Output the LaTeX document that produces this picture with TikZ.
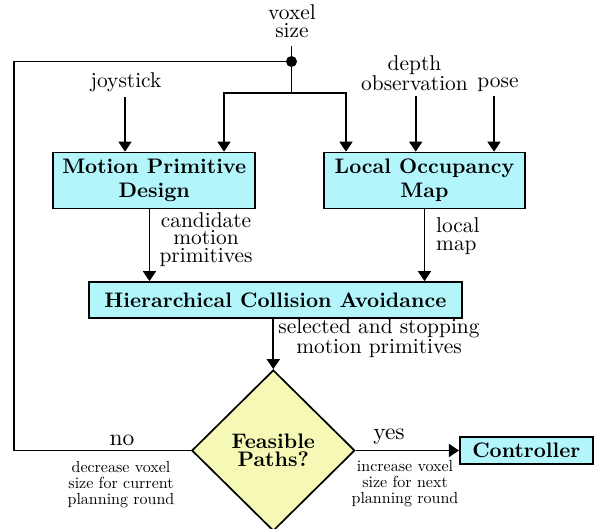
\documentclass[tikz,border=0pt]{standalone}
\usepackage{fontspec}
\setmainfont{lmroman10-regular.otf}[BoldFont=lmroman10-bold.otf]
\usetikzlibrary{arrows.meta,shapes.geometric}
\definecolor{boxcyan}{RGB}{178,246,252}
\definecolor{diayellow}{RGB}{246,249,182}
\tikzset{
  box/.style={draw, fill=boxcyan, line width=1.7pt, inner sep=0pt,
    font=\fontsize{21}{24}\selectfont\bfseries, align=center},
  decision/.style={diamond, draw, fill=diayellow, line width=1.7pt, inner sep=0pt,
    font=\fontsize{21}{18}\selectfont\bfseries, align=center,
    minimum width=163pt, minimum height=161pt},
  lbl/.style={inner sep=0pt, font=\fontsize{21.4}{17.5}\selectfont, align=center},
  big/.style={inner sep=0pt, font=\fontsize{23.5}{20}\selectfont},
  sml/.style={inner sep=0pt, font=\fontsize{16}{16}\selectfont, align=center},
  arr/.style={line width=1.7pt, -{Triangle[length=10pt,width=13pt]}},
  ln/.style={line width=1.7pt},
}
\begin{document}
\begin{tikzpicture}[x=1pt,y=-1pt]
\useasboundingbox (0,0) rectangle (596,529);

% boxes
\node[box, minimum width=202pt, minimum height=56pt] (mpd) at (154.2,180.5) {Motion Primitive\\Design};
\node[box, minimum width=201pt, minimum height=56pt] (lom) at (424.5,180.5) {Local Occupancy\\Map};
\node[box, minimum width=373pt, minimum height=36pt] (hca) at (275.4,300) {Hierarchical Collision Avoidance};
\node[decision] (dia) at (273.3,450.5) {Feasible\\Paths?};
\node[box, minimum width=133pt, minimum height=27pt] (ctl) at (526.3,450.5) {Controller};

% labels (base anchor = baseline of last line)
\node[lbl, anchor=base] (vox) at (292,37.3) {voxel\\size};
\node[lbl, anchor=base] (joy) at (126,88) {joystick};
\node[lbl, anchor=base] (dep) at (414.5,90.5) {depth\\observation};
\node[lbl, anchor=base] (pose) at (498,88) {pose};
\node[lbl, anchor=base] (cand) at (206,262) {candidate\\motion\\primitives};
\node[lbl, anchor=base west, align=left] (lmap) at (436,250) {local\\map};
\node[lbl, anchor=base] (sel) at (379,353) {selected and stopping\\motion primitives};
\node[big, anchor=base] (no) at (122,445) {no};
\node[big, anchor=base] (yes) at (389,439) {yes};
\node[sml, anchor=base] (dec) at (121,504) {decrease voxel\\size for current\\planning round};
\node[sml, anchor=base] (inc) at (405,503) {increase voxel\\size for next\\planning round};

% helper coordinates
\coordinate (dot) at (291.5,61.5);
\coordinate (voxS) at (291.5,46);
\coordinate (br) at (291.5,93.3);
\coordinate (bL) at (224,93.3);
\coordinate (bR) at (346,93.3);
\coordinate (joyS) at (125,97);
\coordinate (depS) at (415.7,96);
\coordinate (poseS) at (494,96);
\coordinate (mpdOut) at (149.5,208);
\coordinate (leftx) at (14,0);

% connectors
\draw[ln] (voxS) -- (dot);
\fill (dot) circle (5.5pt);
\draw[ln] (dot) -- (br);
\draw[arr] (br) -- (bL) -- (bL |- mpd.north);
\draw[arr] (br) -- (bR) -- (bR |- lom.north);
\draw[arr] (joyS) -- (joyS |- mpd.north);
\draw[arr] (depS) -- (depS |- lom.north);
\draw[arr] (poseS) -- (poseS |- lom.north);
\draw[arr] (mpdOut |- mpd.south) -- (mpdOut |- hca.north);
\draw[arr] (lom.south) -- (lom.south |- hca.north);
\draw[arr] (dia.north |- hca.south) -- (dia.north);
\draw[arr] (dia.east) -- (ctl.west);
\draw[ln] (dia.west) -- (dia.west -| leftx) |- (dot);
\end{tikzpicture}
\end{document}
